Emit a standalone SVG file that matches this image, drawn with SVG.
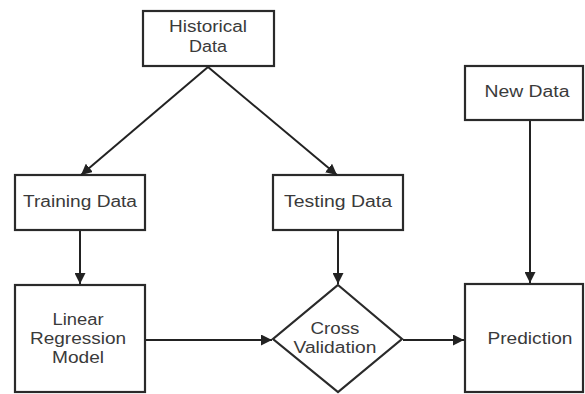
<svg xmlns="http://www.w3.org/2000/svg" width="585" height="394" viewBox="0 0 585 394">
<defs>
<marker id="ah" viewBox="0 0 10 10" refX="10" refY="5" markerWidth="11" markerHeight="11" markerUnits="userSpaceOnUse" orient="auto">
<path d="M0,0 L10,5 L0,10 z" fill="#222"/>
</marker>
<style>
.box{fill:#fff;stroke:#2a2a2a;stroke-width:2.2}
.lbl{font-family:"Liberation Sans",Arial,sans-serif;font-size:16px;fill:#3a3a3a;text-anchor:middle}
.cn{stroke:#222;stroke-width:2;fill:none;marker-end:url(#ah)}
</style>
</defs>
<rect width="585" height="394" fill="#fff"/>
<g id="historical">
<rect class="box" x="143" y="11" width="131" height="55"/>
<text class="lbl" x="208" y="32" textLength="78" lengthAdjust="spacingAndGlyphs">Historical</text>
<text class="lbl" x="208" y="52" textLength="38" lengthAdjust="spacingAndGlyphs">Data</text>
</g>
<g id="training">
<rect class="box" x="15" y="175" width="130" height="55"/>
<text class="lbl" x="80" y="207" textLength="114" lengthAdjust="spacingAndGlyphs">Training Data</text>
</g>
<g id="testing">
<rect class="box" x="273" y="175" width="130" height="55"/>
<text class="lbl" x="338" y="207" textLength="108" lengthAdjust="spacingAndGlyphs">Testing Data</text>
</g>
<g id="model">
<rect class="box" x="15" y="285" width="130" height="107"/>
<text class="lbl" x="78" y="325" textLength="51" lengthAdjust="spacingAndGlyphs">Linear</text>
<text class="lbl" x="78" y="344" textLength="96" lengthAdjust="spacingAndGlyphs">Regression</text>
<text class="lbl" x="78" y="363" textLength="52" lengthAdjust="spacingAndGlyphs">Model</text>
</g>
<g id="cross">
<polygon class="box" points="338,285 402,339 338,392 273,339"/>
<text class="lbl" x="335" y="334" textLength="49" lengthAdjust="spacingAndGlyphs">Cross</text>
<text class="lbl" x="335" y="353" textLength="83" lengthAdjust="spacingAndGlyphs">Validation</text>
</g>
<g id="newdata">
<rect class="box" x="465" y="66" width="118" height="54"/>
<text class="lbl" x="527" y="97" textLength="85" lengthAdjust="spacingAndGlyphs">New Data</text>
</g>
<g id="prediction">
<rect class="box" x="465" y="284" width="118" height="108"/>
<text class="lbl" x="530" y="344" textLength="85" lengthAdjust="spacingAndGlyphs">Prediction</text>
</g>
<g id="connectors">
<path class="cn" d="M208,67 L81,175"/>
<path class="cn" d="M208,67 L337,175"/>
<path class="cn" d="M80,231 L80,284"/>
<path class="cn" d="M338,231 L338,284"/>
<path class="cn" d="M146,340 L272,340"/>
<path class="cn" d="M403,340 L464,340"/>
<path class="cn" d="M530,121 L530,283"/>
</g>
</svg>
